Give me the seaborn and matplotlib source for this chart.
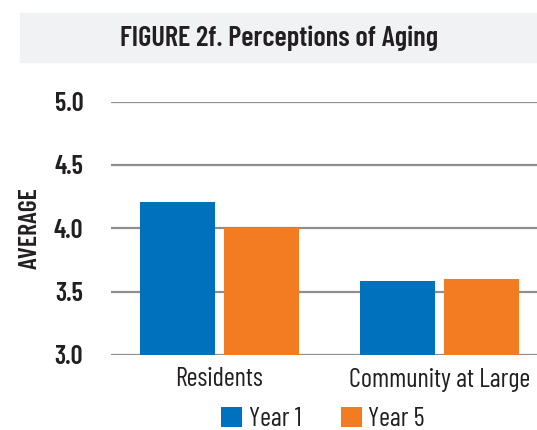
import matplotlib
matplotlib.use("Agg")
import matplotlib.pyplot as plt
from matplotlib.patches import Rectangle
import pandas as pd
import seaborn as sns

# values
groups = ["Residents", "Community at Large"]
years = ["Year 1", "Year 5"]
year1 = [4.21, 3.58]
year5 = [4.00, 3.60]
y_ticks = [3.0, 3.5, 4.0, 4.5, 5.0]

colors = {"Year 1": "#0071BC", "Year 5": "#F37C22"}

df = pd.DataFrame({
    "group": groups * 2,
    "year": ["Year 1"] * 2 + ["Year 5"] * 2,
    "average": year1 + year5,
})

sns.set_theme(style="white")
plt.rcParams["font.family"] = ["Barlow Condensed", "DejaVu Sans"]
plt.rcParams["text.color"] = "#231F20"

fig = plt.figure(figsize=(5.37, 4.30), dpi=100)
ax = fig.add_axes([111 / 537, 1 - 355 / 430, 1 - 111 / 537, (355 - 101.5) / 430])

# grey title band
fig.patches.append(Rectangle((20 / 537, 1 - 62 / 430), 1, 49 / 430,
                             transform=fig.transFigure, color="#F1F2F3", zorder=0))
fig.text(0.519, 1 - 38 / 430, "FIGURE 2f. Perceptions of Aging",
         ha="center", va="center", fontsize=20.5, fontweight="semibold", color="#231F20")

sns.barplot(data=df, x="group", y="average", hue="year", order=groups,
            hue_order=years, palette=colors, saturation=1, width=0.76, gap=0.1,
            linewidth=0, ax=ax)

ax.set_ylim(3.0, 5.0)
ax.set_xlim(-0.493, 1.443)
ax.set_yticks(y_ticks)
ax.set_yticklabels([f"{t:.1f}" for t in y_ticks], fontweight="semibold", fontsize=19)
ax.tick_params(axis="y", length=0, pad=20, labelcolor="#231F20")
ax.tick_params(axis="x", length=0, pad=9, labelsize=19, labelcolor="#231F20")
ax.set_xlabel("")
ax.set_ylabel("AVERAGE", fontsize=18.5, fontweight="semibold", color="#231F20")
ax.yaxis.set_label_coords(-0.163, 0.5)

ax.set_axisbelow(True)
ax.grid(axis="y", color="#8F8F8F", linewidth=1.6)
ax.grid(axis="x", visible=False)
sns.despine(ax=ax, left=True, bottom=True, top=True, right=True)
ax.patch.set_alpha(0)

sns.move_legend(ax, "center", bbox_to_anchor=(323 / 537, 1 - 419 / 430),
                bbox_transform=fig.transFigure, ncol=2, frameon=False, title=None,
                fontsize=19, handlelength=0.8, handleheight=0.8,
                handletextpad=0.25, columnspacing=1.5, borderpad=0)

fig.savefig("out.png", dpi=100)
